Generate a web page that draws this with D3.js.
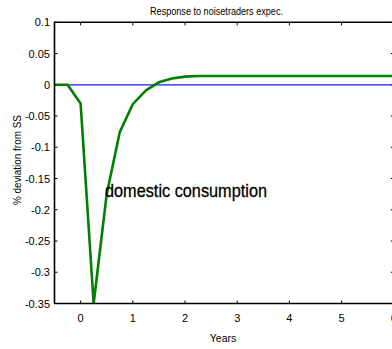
<!DOCTYPE html>
<html>
<head>
<meta charset="utf-8">
<script src="https://cdn.jsdelivr.net/npm/d3@7"></script>
<style>
  html, body { margin: 0; padding: 0; background: #fff; }
  svg { display: block; }
  text { font-family: "Liberation Sans", Arial, sans-serif; fill: #000; }
</style>
</head>
<body>
<svg id="chart" width="392" height="349"></svg>
<script>
// Quarterly impulse response (years after the shock)
const years = [-0.5, -0.25, 0, 0.25, 0.5, 0.75, 1, 1.25, 1.5, 1.75, 2, 2.25, 2.5, 2.75,
               3, 3.25, 3.5, 3.75, 4, 4.25, 4.5, 4.75, 5, 5.25, 5.5, 5.75, 6];
const consumption = [0, 0, -0.03, -0.35, -0.175, -0.076, -0.031, -0.009, 0.004, 0.010, 0.013, 0.014, 0.014, 0.014,
                     0.014, 0.014, 0.014, 0.014, 0.014, 0.014, 0.014, 0.014, 0.014, 0.014, 0.014, 0.014, 0.014];
const steadyState = years.map(() => 0);
const xTicks = [0, 1, 2, 3, 4, 5, 6];
const yTicks = [0.1, 0.05, 0, -0.05, -0.1, -0.15, -0.2, -0.25, -0.3, -0.35];
const titleText = "Response to noisetraders expec.";
const xLabel = "Years";
const yLabel = "% deviation from SS";
const seriesLabel = "domestic consumption";

const svg = d3.select("#chart");
const plotL = 54.5, plotR = 393.8, plotT = 22.3, plotB = 303.5;

const x = d3.scaleLinear().domain([-0.5, 6]).range([plotL, plotR]);
const y = d3.scaleLinear().domain([-0.35, 0.1]).range([plotB, plotT]);

const tickLen = 3;

// Frame ticks (pointing inward on all four sides)
const tickG = svg.append("g").attr("stroke", "#000").attr("stroke-width", 1);
xTicks.forEach(t => {
  tickG.append("line").attr("x1", x(t)).attr("x2", x(t)).attr("y1", plotB).attr("y2", plotB - tickLen);
  tickG.append("line").attr("x1", x(t)).attr("x2", x(t)).attr("y1", plotT).attr("y2", plotT + tickLen);
});
yTicks.forEach(t => {
  tickG.append("line").attr("x1", plotL).attr("x2", plotL + tickLen).attr("y1", y(t)).attr("y2", y(t));
  tickG.append("line").attr("x1", plotR).attr("x2", plotR - tickLen).attr("y1", y(t)).attr("y2", y(t));
});

// Tick labels
svg.append("g").selectAll("text").data(xTicks).join("text")
  .attr("x", d => x(d)).attr("y", 322)
  .attr("text-anchor", "middle").attr("font-size", 11)
  .text(d => d);
svg.append("g").selectAll("text").data(yTicks).join("text")
  .attr("x", 50).attr("y", d => y(d) + 4)
  .attr("text-anchor", "end").attr("font-size", 11)
  .text(d => d);

// Steady-state reference line
const line = d3.line().x((d, i) => x(years[i])).y(d => y(d));
svg.append("path").datum(steadyState)
  .attr("d", line).attr("fill", "none")
  .attr("stroke", "#1a1aff").attr("stroke-width", 1.2);

// Consumption response
svg.append("path").datum(consumption)
  .attr("d", line).attr("fill", "none")
  .attr("stroke", "#007f00").attr("stroke-width", 2.6)
  .attr("stroke-linejoin", "miter");

// Plot box
svg.append("path")
  .attr("d", `M${plotL},${plotT}H${plotR}V${plotB}H${plotL}Z`)
  .attr("fill", "none").attr("stroke", "#000").attr("stroke-width", 1.6);

// Title and axis labels
svg.append("text").attr("x", 216.5).attr("y", 15)
  .attr("text-anchor", "middle").attr("font-size", 10.7)
  .attr("textLength", 133).attr("lengthAdjust", "spacingAndGlyphs")
  .text(titleText);
svg.append("text").attr("x", 223).attr("y", 342)
  .attr("text-anchor", "middle").attr("font-size", 10.5)
  .text(xLabel);
svg.append("text")
  .attr("transform", "translate(21,160) rotate(-90)")
  .attr("text-anchor", "middle").attr("font-size", 10.5)
  .attr("textLength", 90).attr("lengthAdjust", "spacingAndGlyphs")
  .text(yLabel);

// In-plot series annotation
svg.append("text").attr("x", 105).attr("y", 197)
  .attr("font-size", 19).attr("stroke", "#000").attr("stroke-width", 0.3)
  .attr("textLength", 162).attr("lengthAdjust", "spacingAndGlyphs")
  .text(seriesLabel);
</script>
</body>
</html>
